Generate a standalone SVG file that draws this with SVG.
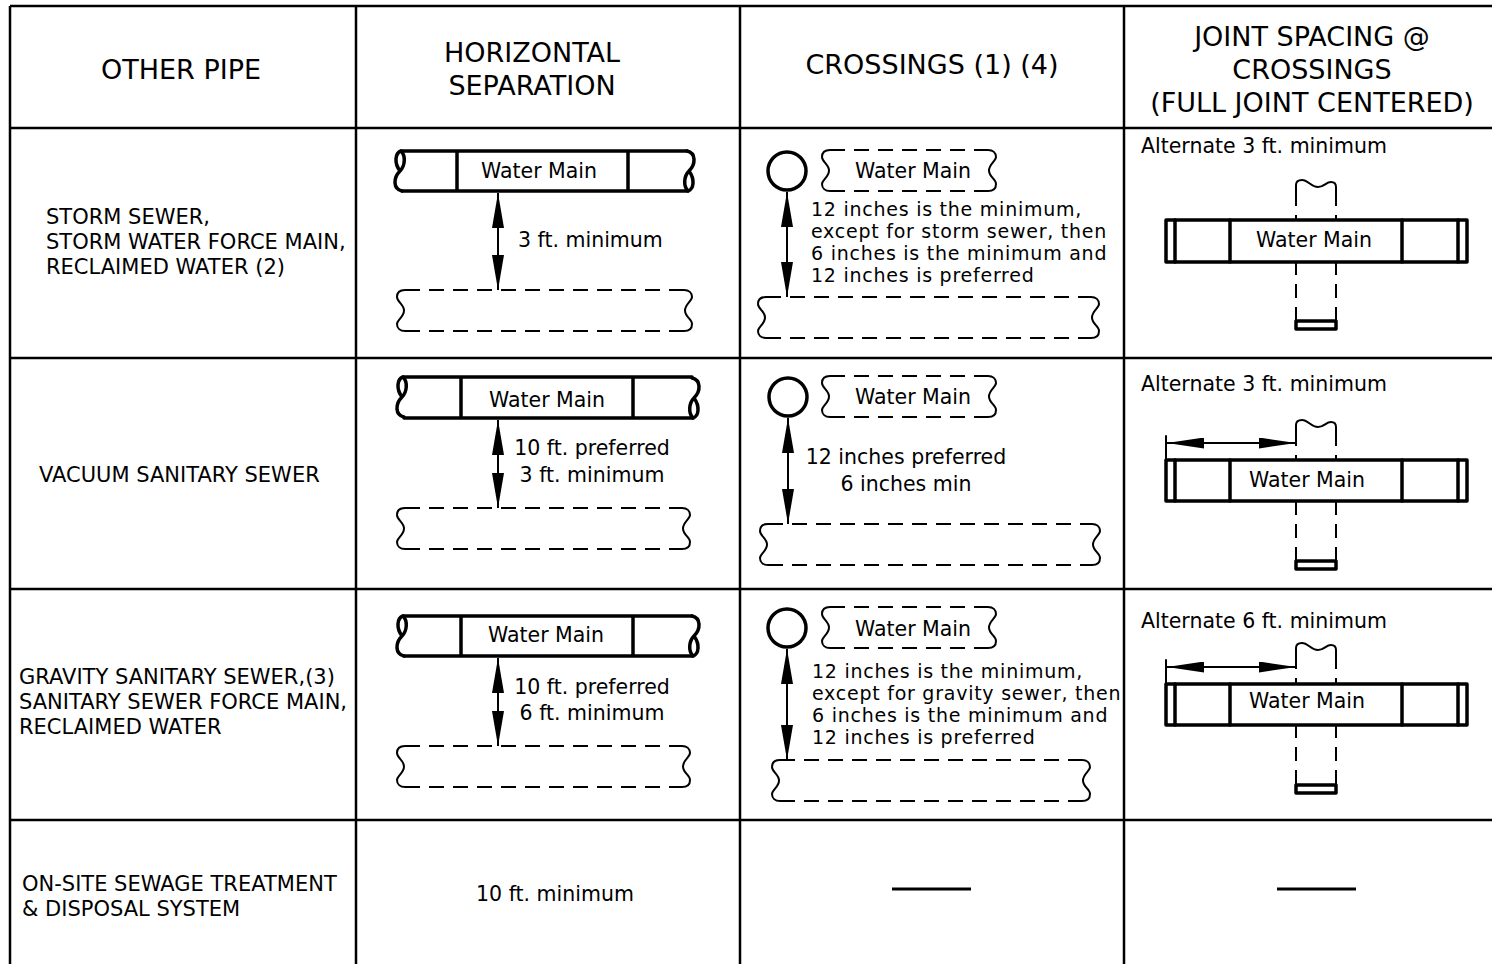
<svg xmlns="http://www.w3.org/2000/svg" width="1492" height="964" viewBox="0 0 1492 964">
<style>
text{font-family:"DejaVu Sans",Verdana,sans-serif;fill:#000}
.h{font-size:27px;text-anchor:middle}
.b{font-size:20.5px}
.l{font-size:21px}
.m{font-size:19px;letter-spacing:0.75px}
.c{text-anchor:middle}
.grid{stroke:#000;stroke-width:2.5;fill:none}
.thick{stroke:#000;stroke-width:3.5;fill:none;stroke-linecap:round;stroke-linejoin:round}
.pipe{stroke:#000;stroke-width:3.5;fill:#fff;stroke-linejoin:round}
.dash{stroke:#000;stroke-width:2;fill:none;stroke-dasharray:15 9}
.vdash{stroke:#000;stroke-width:2;fill:none;stroke-dasharray:14 9}
.thin{stroke:#000;stroke-width:2;fill:none;stroke-linecap:round}
.arr{stroke:#000;stroke-width:2;fill:none;marker-start:url(#ah);marker-end:url(#ah)}
.dim{stroke:#000;stroke-width:2;fill:none;marker-start:url(#ah2);marker-end:url(#ah2)}
.bar{stroke:#000;stroke-width:3}
</style>
<defs>
<marker id="ah" viewBox="0 0 35 12" refX="35" refY="6" markerWidth="35" markerHeight="12" markerUnits="userSpaceOnUse" orient="auto-start-reverse"><path d="M0,0 L35,6 L0,12 z"/></marker>
<marker id="ah2" viewBox="0 0 37 11" refX="37" refY="5.5" markerWidth="37" markerHeight="11" markerUnits="userSpaceOnUse" orient="auto-start-reverse"><path d="M0,0 L37,5.5 L0,11 z"/></marker>
<path id="sEnd" class="thick" d="M1,0 C-5,2 -6,12 0,20 M1,0 C6,5 5,15 0,20 C-7,27 -7,38 2,40"/>
<path id="dEnd" class="thin" d="M8,0 C2,0 0,3 0,7 C0,12 7,14 7,20.5 C7,27 0,30 0,34 C0,38 3,41 8,41"/>
<path id="vcap" class="thin" d="M0,12 L0,5 C0,2 2,0 6,0 C12,0 15,7 22,7 C28,7 30,2 35,2 C38,2 40,4 40,7 L40,12"/>
</defs>
<rect width="1492" height="964" fill="#fff"/>

<g id="grid" class="grid">
<path d="M10,6 H1492 M10,128 H1492 M10,358 H1492 M10,589 H1492 M10,820 H1492 M10,6 V964 M356,6 V964 M740,6 V964 M1124,6 V964"/>
</g>

<g id="header">
<text class="h" x="181" y="79">OTHER PIPE</text>
<text class="h" x="532" y="62">HORIZONTAL</text>
<text class="h" x="532" y="95">SEPARATION</text>
<text class="h" x="932" y="74">CROSSINGS (1) (4)</text>
<text class="h" x="1312" y="46">JOINT SPACING @</text>
<text class="h" x="1312" y="79">CROSSINGS</text>
<text class="h" x="1312" y="112">(FULL JOINT CENTERED)</text>
</g>

<g id="labels">
<text class="l" x="46" y="224">STORM SEWER,</text>
<text class="l" x="46" y="249">STORM WATER FORCE MAIN,</text>
<text class="l" x="46" y="274">RECLAIMED WATER (2)</text>
<text class="l" x="39" y="482">VACUUM SANITARY SEWER</text>
<text class="l" x="19" y="684">GRAVITY SANITARY SEWER,(3)</text>
<text class="l" x="19" y="709">SANITARY SEWER FORCE MAIN,</text>
<text class="l" x="19" y="734">RECLAIMED WATER</text>
<text class="l" x="22" y="891">ON-SITE SEWAGE TREATMENT</text>
<text class="l" x="22" y="916">&amp; DISPOSAL SYSTEM</text>
</g>

<g id="hs1">
<path class="thick" d="M401,151 H687 M402,191 H688 M457,151 V191 M628,151 V191"/>
<use href="#sEnd" x="400" y="151"/>
<use href="#sEnd" transform="translate(689,191) rotate(180)"/>
<text class="b c" x="539" y="178">Water Main</text>
<path class="dash" d="M405,290 H684 M405,331 H684"/>
<use href="#dEnd" x="397" y="290"/>
<use href="#dEnd" transform="translate(692,331) rotate(180)"/>
<text class="b" x="518" y="247">3 ft. minimum</text>
</g>

<g id="hs2">
<path class="thick" d="M403,377 H692 M404,418 H693 M461,377 V418 M633,377 V418"/>
<use href="#sEnd" x="402" y="377"/>
<use href="#sEnd" transform="translate(694,418) rotate(180)"/>
<text class="b c" x="547" y="407">Water Main</text>
<path class="dash" d="M405,508 H682 M405,549 H682"/>
<use href="#dEnd" x="397" y="508"/>
<use href="#dEnd" transform="translate(690,549) rotate(180)"/>
<text class="b c" x="592" y="455">10 ft. preferred</text>
<text class="b c" x="592" y="482">3 ft. minimum</text>
</g>

<g id="hs3">
<path class="thick" d="M403,616 H692 M404,656 H693 M461,616 V656 M633,616 V656"/>
<use href="#sEnd" x="402" y="616"/>
<use href="#sEnd" transform="translate(694,656) rotate(180)"/>
<text class="b c" x="546" y="642">Water Main</text>
<path class="dash" d="M405,746 H682 M405,787 H682"/>
<use href="#dEnd" x="397" y="746"/>
<use href="#dEnd" transform="translate(690,787) rotate(180)"/>
<text class="b c" x="592" y="694">10 ft. preferred</text>
<text class="b c" x="592" y="720">6 ft. minimum</text>
</g>

<g id="cr1">
<circle cx="787" cy="171" r="19" class="thick"/>
<path class="dash" d="M830,150 H988 M830,191 H988"/>
<use href="#dEnd" x="822" y="150"/>
<use href="#dEnd" transform="translate(996,191) rotate(180)"/>
<text class="b c" x="913" y="178">Water Main</text>
<path class="dash" d="M766,297 H1091 M766,338 H1091"/>
<use href="#dEnd" x="758" y="297"/>
<use href="#dEnd" transform="translate(1099,338) rotate(180)"/>
<text class="m" x="811" y="215.5">12 inches is the minimum,</text>
<text class="m" x="811" y="237.8">except for storm sewer, then</text>
<text class="m" x="811" y="260.1">6 inches is the minimum and</text>
<text class="m" x="811" y="282.4">12 inches is preferred</text>
</g>

<g id="cr2">
<circle cx="788" cy="397" r="19" class="thick"/>
<path class="dash" d="M830,376 H988 M830,417 H988"/>
<use href="#dEnd" x="822" y="376"/>
<use href="#dEnd" transform="translate(996,417) rotate(180)"/>
<text class="b c" x="913" y="404">Water Main</text>
<path class="dash" d="M768,524 H1092 M768,565 H1092"/>
<use href="#dEnd" x="760" y="524"/>
<use href="#dEnd" transform="translate(1100,565) rotate(180)"/>
<text class="b c" x="906" y="464">12 inches preferred</text>
<text class="b c" x="906" y="491">6 inches min</text>
</g>

<g id="cr3">
<circle cx="787" cy="628" r="19" class="thick"/>
<path class="dash" d="M830,607 H988 M830,648 H988"/>
<use href="#dEnd" x="822" y="607"/>
<use href="#dEnd" transform="translate(996,648) rotate(180)"/>
<text class="b c" x="913" y="636">Water Main</text>
<path class="dash" d="M780,760 H1082 M780,801 H1082"/>
<use href="#dEnd" x="772" y="760"/>
<use href="#dEnd" transform="translate(1090,801) rotate(180)"/>
<text class="m" x="812" y="677.5">12 inches is the minimum,</text>
<text class="m" x="812" y="699.8">except for gravity sewer, then</text>
<text class="m" x="812" y="722.1">6 inches is the minimum and</text>
<text class="m" x="812" y="744.4">12 inches is preferred</text>
</g>

<g id="js1">
<text class="b" x="1141" y="153">Alternate 3 ft. minimum</text>
<use href="#vcap" x="1296" y="180"/>
<path class="vdash" d="M1296,192 V321 M1336,192 V321"/>
<rect class="pipe" x="1166" y="220" width="301" height="42"/>
<path class="thick" d="M1175,220 V262 M1230,220 V262 M1402,220 V262 M1458,220 V262"/>
<rect class="pipe" x="1296" y="321" width="40" height="8"/>
<text class="b c" x="1314" y="247">Water Main</text>
</g>

<g id="js2">
<text class="b" x="1141" y="391">Alternate 3 ft. minimum</text>
<use href="#vcap" x="1296" y="420"/>
<path class="vdash" d="M1296,432 V561 M1336,432 V561"/>
<rect class="pipe" x="1166" y="460" width="301" height="41"/>
<path class="thick" d="M1175,460 V501 M1230,460 V501 M1402,460 V501 M1458,460 V501"/>
<rect class="pipe" x="1296" y="561" width="40" height="8"/>
<text class="b c" x="1307" y="487">Water Main</text>
</g>

<g id="js3">
<text class="b" x="1141" y="628">Alternate 6 ft. minimum</text>
<use href="#vcap" x="1296" y="643"/>
<path class="vdash" d="M1296,655 V785 M1336,655 V785"/>
<rect class="pipe" x="1166" y="684" width="301" height="41"/>
<path class="thick" d="M1175,684 V725 M1230,684 V725 M1402,684 V725 M1458,684 V725"/>
<rect class="pipe" x="1296" y="785" width="40" height="8"/>
<text class="b c" x="1307" y="708">Water Main</text>
</g>

<g id="row4">
<text class="b c" x="555" y="901">10 ft. minimum</text>
<path class="bar" d="M892,889 H971 M1277,889 H1356"/>
</g>

<g id="connectors">
<line class="arr" x1="498" y1="193" x2="498" y2="290"/>
<line class="arr" x1="498" y1="420" x2="498" y2="508"/>
<line class="arr" x1="498" y1="658" x2="498" y2="746"/>
<line class="arr" x1="787" y1="192" x2="787" y2="297"/>
<line class="arr" x1="788" y1="418" x2="788" y2="524"/>
<line class="arr" x1="787" y1="649" x2="787" y2="760"/>
<line class="dim" x1="1167" y1="443" x2="1296" y2="443"/>
<line class="dim" x1="1167" y1="667" x2="1296" y2="667"/>
<path class="thin" d="M1166,436 V460 M1166,660 V684"/>
</g>
</svg>
